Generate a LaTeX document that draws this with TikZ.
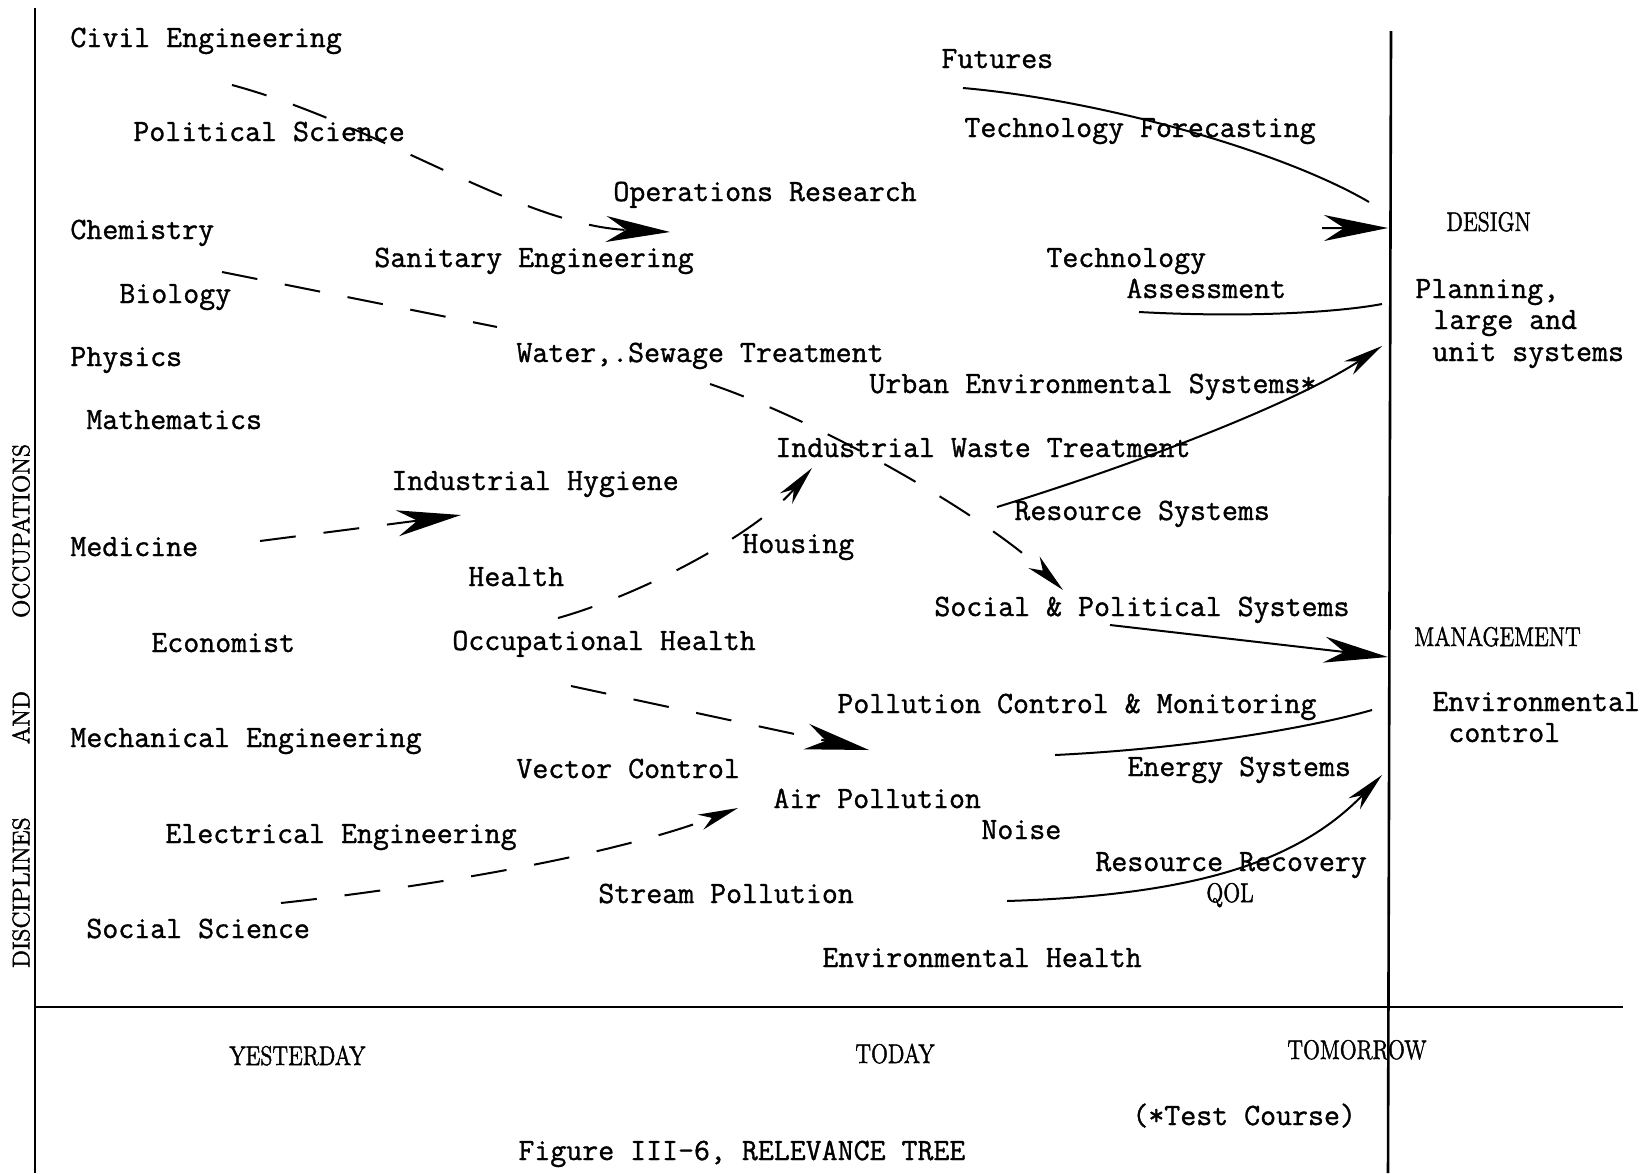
\documentclass[tikz,border=0pt]{standalone}
\usepackage{fontspec}
\usepackage{graphicx}
\usepackage{tikz}
\usetikzlibrary{arrows.meta,calc}
\newfontfamily\typewriter{Latin Modern Mono}[FakeBold=1.1]
\newfontfamily\printface{Latin Modern Roman}[FakeBold=1.8]
\newcommand{\squeezed}[1]{\scalebox{0.82}[1]{#1}}

\begin{document}
\begin{tikzpicture}[x=0.5pt,y=-0.5pt,
    typed/.style={font=\fontsize{15.5}{18}\selectfont\typewriter,anchor=base west,inner sep=0pt},
    printed/.style={font=\fontsize{13.5}{15}\selectfont\printface,anchor=base west,inner sep=0pt},
    frame/.style={line width=1.3pt},
    dline/.style={line width=1pt,dash pattern=on 18pt off 14pt},
    sline/.style={line width=1pt},
    bigtip/.style={-{Stealth[length=32pt,width=13pt,inset=10pt]}},
    thintip/.style={-{Stealth[length=20pt,width=8pt,inset=6pt]}}]
    \useasboundingbox (0,0) rectangle (1642,1173);

    % axes
    \draw[frame] (35,8) -- (35,1173);
    \draw[frame] (35,1007) -- (1623,1007);
    \draw[frame] (1391,31) -- (1388,1173);

    % disciplines
    \node[typed] (civil) at (70,47) {Civil Engineering};
    \node[typed] (polsci) at (133,141) {Political Science};
    \node[typed] (chem) at (70,239) {Chemistry};
    \node[typed] (bio) at (119,303) {Biology};
    \node[typed] (phys) at (70,366) {Physics};
    \node[typed] (math) at (86,429) {Mathematics};
    \node[typed] (med) at (70,556) {Medicine};
    \node[typed] (econ) at (151,652) {Economist};
    \node[typed] (mech) at (70,747) {Mechanical Engineering};
    \node[typed] (elec) at (165,843) {Electrical Engineering};
    \node[typed] (socsci) at (86,938) {Social Science};

    % today
    \node[typed] (opres) at (613,201) {Operations Research};
    \node[typed] (sanit) at (374,267) {Sanitary Engineering};
    \node[typed] (water) at (516,362) {Water,.Sewage Treatment};
    \node[typed] (indhyg) at (391,490) {Industrial Hygiene};
    \node[typed] (health) at (468,586) {Health};
    \node[typed] (occhealth) at (452,650) {Occupational Health};
    \node[typed] (vector) at (516,778) {Vector Control};
    \node[typed] (stream) at (598,903) {Stream Pollution};

    \node[typed] (futures) at (941,68) {Futures};
    \node[typed] (techfor) at (964,137) {Technology Forecasting};
    \node[typed] (tech) at (1046,267) {Technology};
    \node[typed] (assess) at (1126,298) {Assessment};
    \node[typed] (urban) at (869,393) {Urban Environmental Systems*};
    \node[typed] (indwaste) at (775,457) {Industrial Waste Treatment};
    \node[typed] (ressys) at (1014,520) {Resource Systems};
    \node[typed] (housing) at (742,553) {Housing};
    \node[typed] (socpol) at (934,616) {Social \& Political Systems};
    \node[typed] (pollctl) at (837,713) {Pollution Control \& Monitoring};
    \node[typed] (energy) at (1127,776) {Energy Systems};
    \node[typed] (airpol) at (773,808) {Air Pollution};
    \node[typed] (noise) at (981,839) {Noise};
    \node[typed] (resrec) at (1095,871) {Resource Recovery};
    \node[printed] (qol) at (1206,902) {\squeezed{QOL}};
    \node[typed] (envhealth) at (822,967) {Environmental Health};

    % tomorrow
    \node[printed] (design) at (1446,231) {\squeezed{DESIGN}};
    \node[typed] (planning) at (1415,298) {Planning,};
    \node[typed] (large) at (1433,329) {large and};
    \node[typed] (unit) at (1432,361) {unit systems};
    \node[printed] (mgmt) at (1414,646) {\squeezed{MANAGEMENT}};
    \node[typed] (envctl) at (1432,711) {Environmental};
    \node[typed] (control) at (1448,742) {control};

    % time axis and titles
    \node[printed] (yesterday) at (229,1065) {\squeezed{YESTERDAY}};
    \node[printed] (today) at (855,1063) {\squeezed{TODAY}};
    \node[printed] (tomorrow) at (1287,1059) {\squeezed{TOMORROW}};
    \node[typed] (testcourse) at (1132,1125) {(*Test Course)};
    \node[typed] (caption) at (518,1160) {Figure III-6, RELEVANCE TREE};
    \node[printed,font=\fontsize{12}{14}\selectfont\printface,rotate=90,anchor=center] (discipl) at (21,706)
        {\makebox[262pt]{DISCIPLINES\hfill AND\hfill OCCUPATIONS}};

    % dashed links
    \draw[dline,bigtip] ($(civil.base west)+(162,38)$) .. controls (380,125) and (520,225) .. ($(opres.base west)+(57,31)$);
    \draw[dline] ($(bio.base west)+(103,-31)$) -- ($(water.base west)+(-19,-35)$);
    \draw[dline,thintip] ($(water.base west)+(194,22)$) .. controls (830,425) and (990,520) .. ($(socpol.base west)+(129,-26)$);
    \draw[dline,bigtip] ($(med.base west)+(190,-15)$) -- ($(indhyg.base west)+(70,25)$);
    \draw[dline,thintip] ($(occhealth.base west)+(106,-32)$) .. controls (640,595) and (755,535) .. ($(indwaste.base west)+(37,11)$);
    \draw[dline,bigtip] ($(occhealth.base west)+(119,36)$) -- ($(airpol.base west)+(96,-58)$);
    \draw[dline,thintip] ($(socsci.base west)+(195,-35)$) .. controls (400,890) and (600,860) .. ($(airpol.base west)+(-35,0)$);

    % solid links
    \draw[sline,bigtip] ($(futures.base west)+(22,20)$) .. controls (1100,100) and (1280,150) .. ($(design.base west)+(-77,-29)$)
        ($(design.base west)+(-124,-3)$) -- ($(design.base west)+(-58,-3)$);
    \draw[sline] ($(assess.base west)+(13,14)$) .. controls (1250,318) and (1340,312) .. ($(planning.base west)+(-33,6)$);
    \draw[sline,thintip] ($(ressys.base west)+(-17,-13)$) .. controls (1150,460) and (1300,400) .. ($(unit.base west)+(-50,-15)$);
    \draw[sline,bigtip] ($(socpol.base west)+(176,9)$) -- ($(mgmt.base west)+(-26,11)$);
    \draw[sline] ($(pollctl.base west)+(218,42)$) .. controls (1200,748) and (1320,725) .. ($(envctl.base west)+(-60,-1)$);
    \draw[sline,thintip] ($(stream.base west)+(409,-2)$) .. controls (1200,895) and (1300,860) .. ($(energy.base west)+(255,-1)$);
\end{tikzpicture}
\end{document}
